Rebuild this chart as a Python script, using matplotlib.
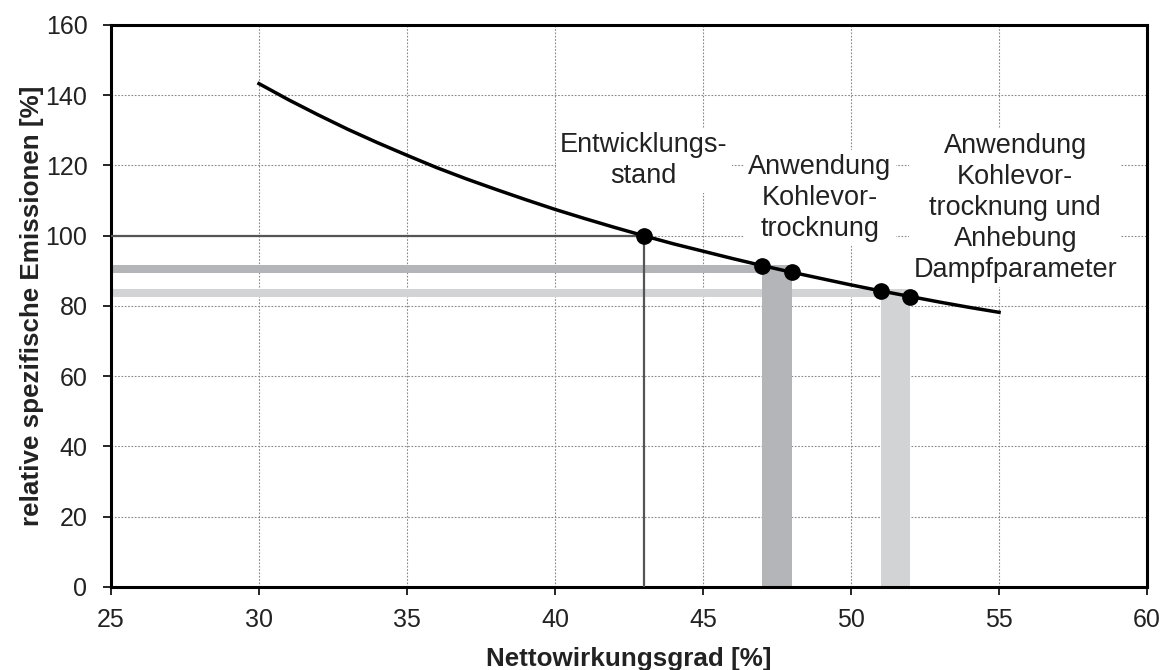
import matplotlib
matplotlib.use("Agg")
import matplotlib.pyplot as plt

plt.rcParams['font.family'] = ['Liberation Sans', 'DejaVu Sans']

# Curve: relative specific emissions vs. net efficiency
eff = [30, 31, 32, 33, 34, 35, 36, 37, 38, 39, 40, 41, 42, 43, 44, 45, 46, 47, 48, 49, 50, 51, 52, 53, 54, 55]
emis = [143.3, 138.7, 134.4, 130.3, 126.5, 122.9, 119.4, 116.2, 113.2, 110.3, 107.5, 104.9, 102.4, 100.0,
        97.7, 95.6, 93.5, 91.5, 89.6, 87.8, 86.0, 84.3, 82.7, 81.1, 79.6, 78.2]

# Marked points
pt_x = [43, 47, 48, 51, 52]
pt_y = [100.0, 91.5, 89.6, 84.3, 82.7]

# Reference state
ref_x = 43
ref_y = 100

# Bands (efficiency range, emission range)
band_dark_x = [47, 48]
band_dark_y = [89.4, 91.6]
band_light_x = [51, 52]
band_light_y = [82.5, 84.7]

labels = ["Entwicklungs-\nstand",
          "Anwendung\nKohlevor-\ntrocknung",
          "Anwendung\nKohlevor-\ntrocknung und\nAnhebung\nDampfparameter"]
label_pos = [(43.0, 121.3), (48.95, 110.8), (55.55, 108.0)]

xticks = [25, 30, 35, 40, 45, 50, 55, 60]
yticks = [0, 20, 40, 60, 80, 100, 120, 140, 160]

fig = plt.figure(figsize=(11.61, 6.70), dpi=100)
ax = fig.add_axes([0.0956, 0.1239, 0.8924, 0.8388])

ax.set_xlim(25, 60)
ax.set_ylim(0, 160)
ax.set_xticks(xticks)
ax.set_yticks(yticks)

ax.grid(True, color='#888888', linestyle=(0, (1.5, 1.5)), linewidth=0.8, zorder=0)
ax.set_axisbelow(True)

dark = '#b4b5b8'
light = '#d2d3d5'
# horizontal bands
ax.fill_between([25, band_dark_x[0]], band_dark_y[0], band_dark_y[1], color=dark, lw=0, zorder=2)
ax.fill_between([25, band_light_x[0]], band_light_y[0], band_light_y[1], color=light, lw=0, zorder=2)
# vertical bands
ax.fill_between(band_dark_x, 0, band_dark_y[1], color=dark, lw=0, zorder=2)
ax.fill_between(band_light_x, 0, band_light_y[1], color=light, lw=0, zorder=2)

# reference lines
ax.plot([25, ref_x], [ref_y, ref_y], color='#555555', lw=1.6, zorder=3)
ax.plot([ref_x, ref_x], [0, ref_y], color='#555555', lw=1.6, zorder=3)

ax.plot(eff, emis, color='black', lw=2.5, zorder=4)
ax.plot(pt_x, pt_y, 'o', color='black', markersize=11, zorder=5)

for txt, (x, y) in zip(labels, label_pos):
    ax.text(x, y, txt, ha='center', va='center', fontsize=19.5, color='#222222',
            linespacing=1.25,
            bbox=dict(facecolor='white', edgecolor='none', pad=3), zorder=3.5)

for s in ax.spines.values():
    s.set_linewidth(2.2)
ax.tick_params(axis='both', direction='out', length=6, width=1.2, labelsize=18, colors='black',
               labelcolor='#222222')
ax.tick_params(axis='x', pad=9)
ax.tick_params(axis='y', pad=11)

ax.set_xlabel('Nettowirkungsgrad [%]', fontsize=18.7, fontweight='bold', color='#222222', labelpad=11)
ax.set_ylabel('relative spezifische Emissionen [%]', fontsize=18.7, fontweight='bold', color='#222222', labelpad=1)

fig.savefig('out.png', dpi=100)
